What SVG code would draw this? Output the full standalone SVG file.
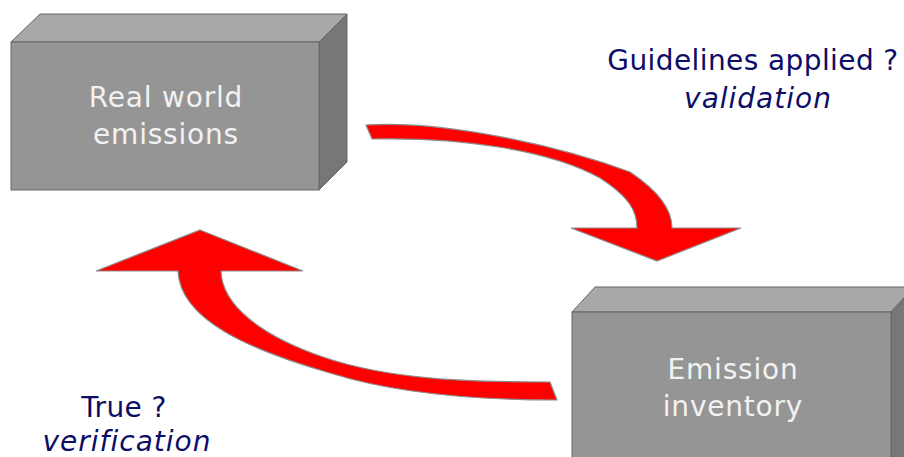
<svg xmlns="http://www.w3.org/2000/svg" width="904" height="457" viewBox="0 0 904 457">
<style>
.front{fill:#959595;stroke:#666;stroke-width:1}
.top{fill:#a8a8a8;stroke:#666;stroke-width:1}
.side{fill:#777;stroke:#666;stroke-width:1}
.box-text{font-family:"DejaVu Sans",Verdana,sans-serif;font-size:28px;fill:#f2f2f2;text-anchor:middle;letter-spacing:0.8px}
.label{font-family:"DejaVu Sans",Verdana,sans-serif;font-size:28px;fill:#0d0d66;text-anchor:middle;letter-spacing:0.4px}
.it{font-style:italic;letter-spacing:1px}
.arrow{fill:#ff0000;stroke:#8c8c8c;stroke-width:1.2}
</style>
<rect width="904" height="457" fill="#fff"/>
<g id="real-world">
<polygon class="top" points="11,42 40,14 347,14 319,42"/>
<polygon class="side" points="319,42 347,14 347,162 319,190"/>
<rect class="front" x="11" y="42" width="308" height="148"/>
<text class="box-text" x="166" y="107">Real world</text>
<text class="box-text" x="166" y="144">emissions</text>
</g>
<g id="inventory">
<polygon class="top" points="572,312 595,287 914,287 891,312"/>
<polygon class="side" points="891,312 914,287 914,470 891,470"/>
<rect class="front" x="572" y="312" width="319" height="160"/>
<text class="box-text" x="733" y="379">Emission</text>
<text class="box-text" x="733" y="416">inventory</text>
</g>
<g id="connectors">
<path class="arrow" d="M366,125 C450,120 565,148 630,172 C660,192 672,210 672,228 L741,228 L657,261 L571,228 L637,228 C637,210 628,196 600,178 C550,150 460,137 372,139 Z"/>
<path class="arrow" d="M200,230 L303,271 L221,271 C222,305 260,335 323,357 C390,380 470,382 550,382 L557,400 C470,400 390,392 330,373 C250,350 180,320 178,271 L96,271 Z"/>
</g>
<g id="labels">
<text class="label" x="753" y="70">Guidelines applied ?</text>
<text class="label it" x="758" y="108">validation</text>
<text class="label" x="124" y="417">True ?</text>
<text class="label it" x="127" y="451">verification</text>
</g>
</svg>
